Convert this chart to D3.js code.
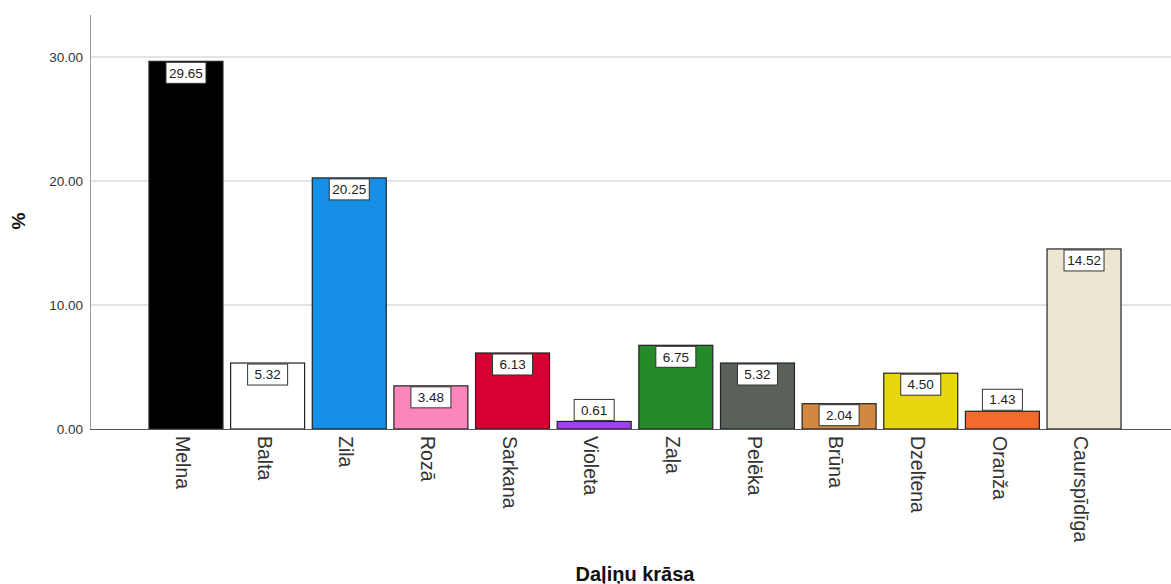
<!DOCTYPE html>
<html>
<head>
<meta charset="utf-8">
<script src="https://cdn.jsdelivr.net/npm/d3@7"></script>
<style>
  body { margin: 0; background: #fff; }
  svg { font-family: "Liberation Sans", Arial, sans-serif; }
</style>
</head>
<body>
<div id="chart"></div>
<script>
// Chart size
var width = 1171;
var height = 584;

// Data
var categories = ["Melna", "Balta", "Zila", "Rozā", "Sarkana", "Violeta", "Zaļa", "Pelēka", "Brūna", "Dzeltena", "Oranža", "Caurspīdīga"];
var percents = [29.65, 5.32, 20.25, 3.48, 6.13, 0.61, 6.75, 5.32, 2.04, 4.50, 1.43, 14.52];
var barColors = ["#000000", "#ffffff", "#1690e6", "#fb86bb", "#d60032", "#a23ff0", "#268a2b", "#59615a", "#d28841", "#e6d70e", "#f5692a", "#ece6d2"];
var yTicks = [0, 10, 20, 30];

var m = { left: 90, top: 15, bottom: 429, right: 1171 };

var svg = d3.select("#chart").append("svg")
  .attr("width", width)
  .attr("height", height);

var x = d3.scaleBand()
  .domain(categories)
  .range([100, 1170])
  .paddingInner(0.094)
  .paddingOuter(0.6);

var y = d3.scaleLinear()
  .domain([0, 30])
  .range([m.bottom, 57]);

// gridlines
svg.append("g")
  .selectAll("line")
  .data(yTicks.filter(d => d > 0))
  .enter().append("line")
  .attr("x1", m.left)
  .attr("x2", m.right)
  .attr("y1", d => y(d))
  .attr("y2", d => y(d))
  .attr("stroke", "#c8c8c8")
  .attr("stroke-width", 1);

// y axis
var yAxis = svg.append("g")
  .attr("transform", "translate(" + m.left + ",0)")
  .call(d3.axisLeft(y).tickValues(yTicks).tickFormat(d3.format(".2f")).tickSize(0).tickPadding(7));
yAxis.select(".domain").remove();
yAxis.selectAll("text")
  .attr("font-size", 13.5)
  .attr("fill", "#333")
  .attr("font-family", "Liberation Sans, Arial, sans-serif");

svg.append("line")
  .attr("x1", m.left + 0.5).attr("x2", m.left + 0.5)
  .attr("y1", m.top).attr("y2", m.bottom)
  .attr("stroke", "#999");

// bars
svg.append("g")
  .selectAll("rect")
  .data(percents)
  .enter().append("rect")
  .attr("x", (d, i) => x(categories[i]))
  .attr("y", d => y(d))
  .attr("width", x.bandwidth())
  .attr("height", d => y(0) - y(d))
  .attr("fill", (d, i) => barColors[i])
  .attr("stroke", "#222")
  .attr("stroke-width", 1.2);

// baseline
svg.append("line")
  .attr("x1", m.left).attr("x2", m.right)
  .attr("y1", m.bottom + 0.5).attr("y2", m.bottom + 0.5)
  .attr("stroke", "#555");

// value labels: inside the bar top if it fits, else just above
var boxH = 21, boxW = 40;
var labels = svg.append("g")
  .selectAll("g")
  .data(percents)
  .enter().append("g")
  .attr("transform", (d, i) => {
    var cx = x(categories[i]) + x.bandwidth() / 2;
    var barH = y(0) - y(d);
    var top = barH >= boxH + 3 ? y(d) + 1 : y(d) - boxH - 1;
    return "translate(" + cx + "," + top + ")";
  });

labels.append("rect")
  .attr("x", -boxW / 2)
  .attr("y", 0)
  .attr("width", boxW)
  .attr("height", boxH)
  .attr("fill", "#fff")
  .attr("stroke", "#333")
  .attr("stroke-width", 1);

labels.append("text")
  .attr("y", boxH / 2)
  .attr("dy", "0.35em")
  .attr("text-anchor", "middle")
  .attr("font-size", 13.5)
  .attr("fill", "#222")
  .text(d => d3.format(".2f")(d));

// category labels, rotated
svg.append("g")
  .selectAll("text")
  .data(categories)
  .enter().append("text")
  .attr("transform", d => "translate(" + (x(d) + x.bandwidth() / 2 - 3) + "," + (m.bottom + 7) + ") rotate(90)")
  .attr("dy", "0.35em")
  .attr("text-anchor", "start")
  .attr("font-size", 19.5)
  .attr("fill", "#333")
  .text(d => d);

// axis titles
svg.append("text")
  .attr("transform", "translate(18,221) rotate(-90)")
  .attr("dy", "0.35em")
  .attr("text-anchor", "middle")
  .attr("font-size", 19)
  .attr("font-weight", "bold")
  .attr("fill", "#111")
  .text("%");

svg.append("text")
  .attr("x", 635)
  .attr("y", 574)
  .attr("dy", "0.35em")
  .attr("text-anchor", "middle")
  .attr("font-size", 20)
  .attr("font-weight", "bold")
  .attr("fill", "#111")
  .text("Daļiņu krāsa");
</script>
</body>
</html>
